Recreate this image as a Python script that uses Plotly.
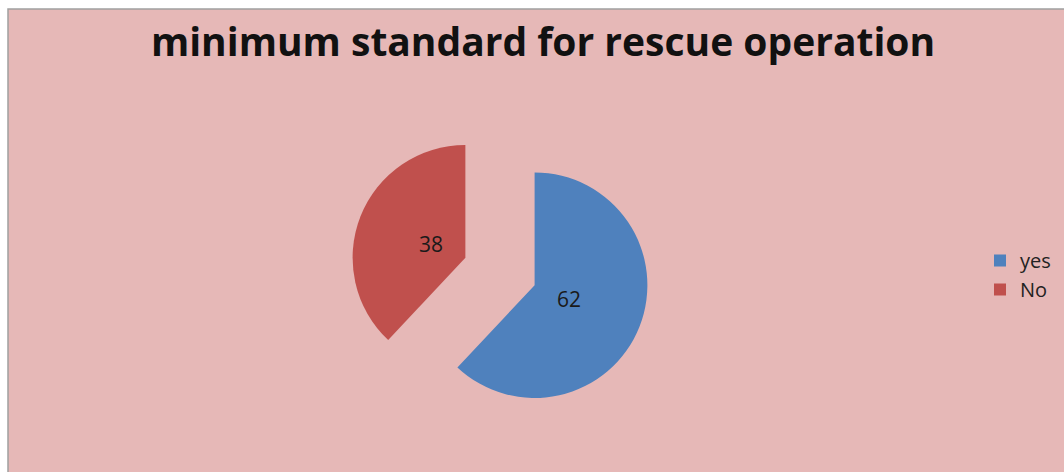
import math
import plotly.graph_objects as go

# Survey responses
labels = ["yes", "No"]
values = [62, 38]
colors = ["#4F81BD", "#C0504D"]

W, H = 1064, 472

# Pie placement (pixels): square domain box and explode fraction
BOX_X0, BOX_X1 = 350, 650
BOX_Y0, BOX_Y1 = 121.5, 421.5
PULL = 0.33
LABEL_R = 37  # distance of value label from each slice's tip

fig = go.Figure()

fig.add_trace(go.Pie(
    labels=labels,
    values=values,
    marker=dict(colors=colors, line=dict(width=0)),
    sort=False,
    direction="clockwise",
    rotation=0,
    pull=[PULL] * len(values),
    textinfo="none",
    hoverinfo="label+value",
    domain=dict(x=[BOX_X0 / W, BOX_X1 / W], y=[1 - BOX_Y1 / H, 1 - BOX_Y0 / H]),
))

# Value labels placed near each exploded slice's tip, along its bisector
cx, cy = (BOX_X0 + BOX_X1) / 2, (BOX_Y0 + BOX_Y1) / 2
radius = (BOX_X1 - BOX_X0) / 2 / (1 + PULL)
total = sum(values)
start = 0.0
for v in values:
    mid = math.radians((start + v / 2) / total * 360)
    dist = radius * PULL + LABEL_R
    px = cx + dist * math.sin(mid)
    py = cy - dist * math.cos(mid)
    fig.add_annotation(
        x=px / W, y=1 - py / H, xref="paper", yref="paper",
        text=str(v), showarrow=False,
        font=dict(family="Open Sans, sans-serif", size=21, color="#1a1a1a"),
    )
    start += v

# Chart area panel with thin grey border
fig.add_shape(
    type="rect", xref="paper", yref="paper",
    x0=8 / W, y0=-0.02, x1=1.02, y1=1 - 9 / H,
    fillcolor="#E6B8B7", line=dict(color="#A0A0A0", width=1.5),
    layer="below",
)

fig.update_layout(
    width=W, height=H,
    margin=dict(l=0, r=0, t=0, b=0),
    paper_bgcolor="white",
    plot_bgcolor="white",
    title=dict(
        text="<b>minimum standard for rescue operation</b>",
        x=543 / W, xanchor="center",
        y=1 - 42 / H, yanchor="middle",
        font=dict(family="Open Sans, sans-serif", size=39, color="#111111"),
    ),
    legend=dict(
        x=980 / W, xanchor="left",
        y=1 - 275 / H, yanchor="middle",
        bgcolor="rgba(0,0,0,0)",
        font=dict(family="Open Sans, sans-serif", size=20, color="#222222"),
        itemwidth=30,
    ),
    showlegend=True,
)

fig.write_html("out.html")
